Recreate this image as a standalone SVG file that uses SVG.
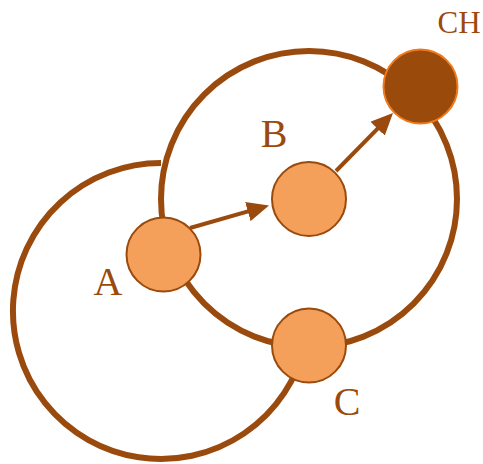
<svg xmlns="http://www.w3.org/2000/svg" width="483" height="464" viewBox="0 0 483 464">
<style>
.ring{fill:none;stroke:#9a4a0d;stroke-width:6}
.edge{fill:none;stroke:#9a4a0d;stroke-width:4;marker-end:url(#arr)}
.node{fill:#f4a05a;stroke:#9a4a0d;stroke-width:2}
.ch{fill:#9a4a0b;stroke:#f07a1a;stroke-width:2}
.lbl{font-family:"Liberation Serif","Times New Roman",serif;fill:#9a4a0d;text-anchor:middle}
</style>
<defs>
<marker id="arr" markerWidth="22" markerHeight="20" refX="12" refY="10" orient="auto" markerUnits="userSpaceOnUse">
<path d="M0,0 L22,10 L0,20 Z" fill="#9a4a0d"/>
</marker>
</defs>
<g id="connectors">
<circle class="ring" cx="309" cy="199" r="148"/>
<path class="ring" d="M161 163 A148 148 0 1 0 305.2 344.1"/>
<line class="edge" x1="190" y1="228" x2="259.4" y2="208.2"/>
<line class="edge" x1="336" y1="171" x2="386" y2="120.1"/>
</g>
<g id="A"><circle class="node" cx="163.5" cy="254.5" r="37"/><text class="lbl" x="108" y="295" font-size="40">A</text></g>
<g id="B"><circle class="node" cx="309" cy="199" r="37"/><text class="lbl" x="274" y="147" font-size="40">B</text></g>
<g id="C"><circle class="node" cx="309" cy="345.5" r="37"/><text class="lbl" x="347" y="415" font-size="40">C</text></g>
<g id="CH"><circle class="ch" cx="420.5" cy="86.5" r="37"/><text class="lbl" x="459" y="33" font-size="31">CH</text></g>
</svg>
